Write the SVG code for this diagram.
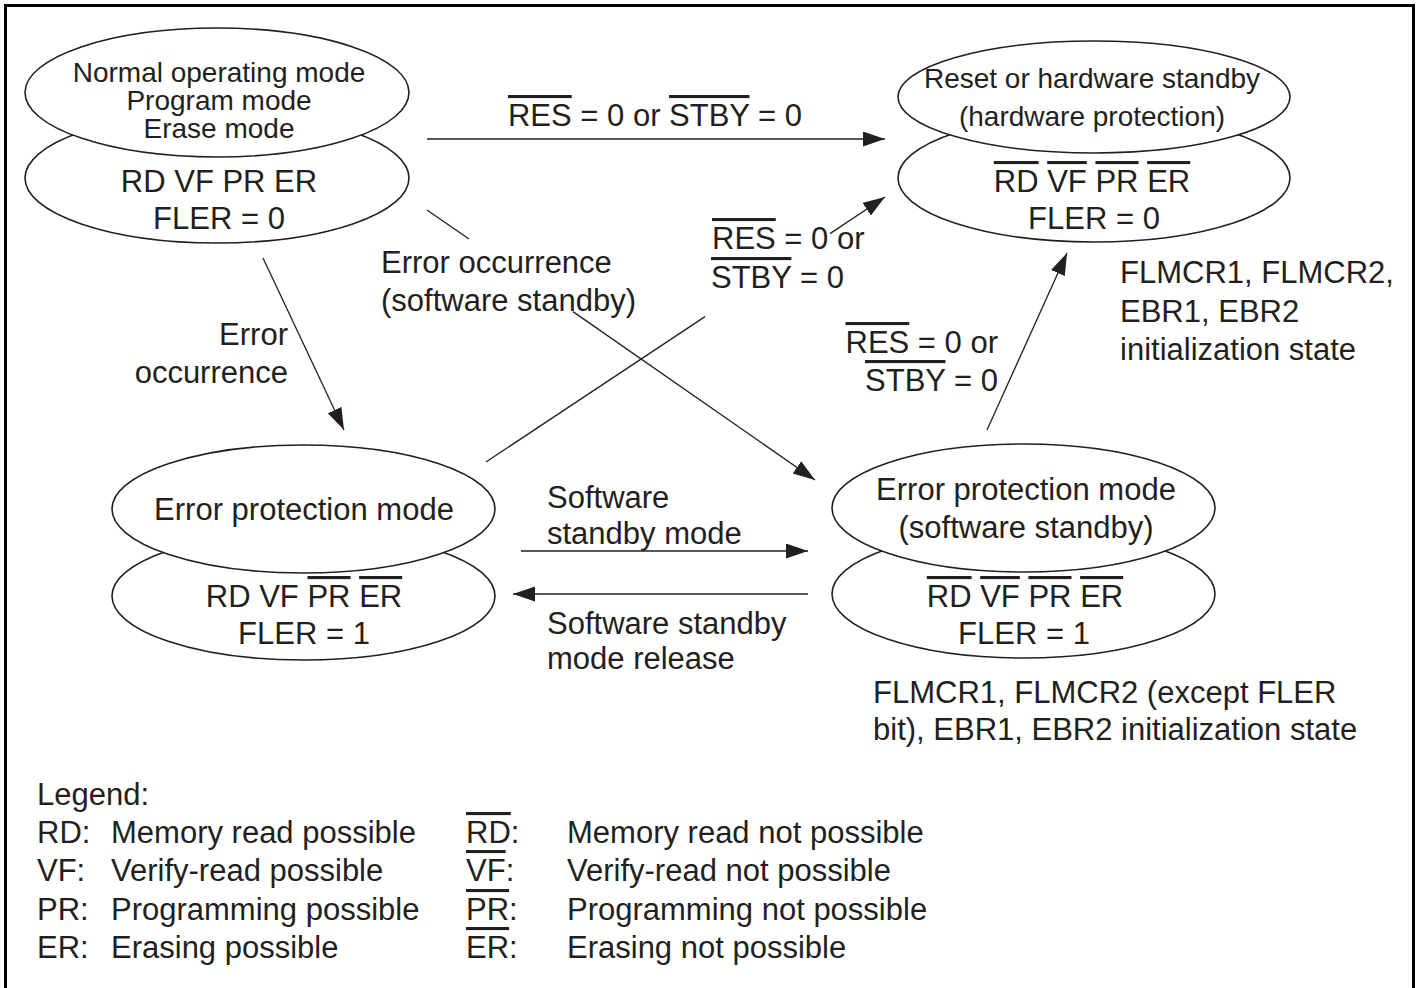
<svg xmlns="http://www.w3.org/2000/svg" width="1417" height="988" viewBox="0 0 1417 988">
<style>
text { font-family: "Liberation Sans", Arial, Helvetica, sans-serif; font-size: 31px; fill: #231f20; }
.sm { font-size: 28px; }
.c { text-anchor: middle; }
.e { text-anchor: end; }
.ob { text-decoration: overline; text-decoration-thickness: 1.5px; }
.el { fill: #fff; stroke: #231f20; stroke-width: 1.6; }
.ln { fill: none; stroke: #231f20; stroke-width: 1.3; }
</style>
<defs>
<marker id="ah" markerUnits="userSpaceOnUse" markerWidth="24" markerHeight="16" refX="22" refY="7.5" orient="auto" viewBox="0 0 24 16"><path d="M0,0 L22,7.5 L0,15 z" fill="#231f20"/></marker>
</defs>
<rect x="0" y="0" width="1417" height="988" fill="#fff"/>
<rect x="5.5" y="5.5" width="1408" height="1000" fill="none" stroke="#000" stroke-width="3"/>

<g id="connectors">
<line class="ln" x1="427" y1="139" x2="885" y2="139" marker-end="url(#ah)"/>
<line class="ln" x1="427" y1="210" x2="469" y2="239"/>
<line class="ln" x1="573" y1="311.6" x2="815" y2="480" marker-end="url(#ah)"/>
<line class="ln" x1="263" y1="258" x2="344" y2="430" marker-end="url(#ah)"/>
<line class="ln" x1="486" y1="462" x2="705" y2="316.6"/>
<line class="ln" x1="830" y1="233.6" x2="885" y2="197" marker-end="url(#ah)"/>
<line class="ln" x1="987" y1="430" x2="1067" y2="253" marker-end="url(#ah)"/>
<line class="ln" x1="521" y1="551" x2="808" y2="551" marker-end="url(#ah)"/>
<line class="ln" x1="808" y1="594" x2="513" y2="594" marker-end="url(#ah)"/>
</g>

<g id="labels">
<text class="c" x="655" y="126"><tspan class="ob">RES</tspan> = 0 or <tspan class="ob">STBY</tspan> = 0</text>
<text x="381" y="273">Error occurrence</text>
<text x="381" y="311">(software standby)</text>
<text class="e" x="288" y="345">Error</text>
<text class="e" x="288" y="383">occurrence</text>
<text x="712" y="249"><tspan class="ob">RES</tspan> = 0 or</text>
<text x="711" y="288"><tspan class="ob">STBY</tspan> = 0</text>
<text class="e" x="998" y="353"><tspan class="ob">RES</tspan> = 0 or</text>
<text class="e" x="998" y="391"><tspan class="ob">STBY</tspan> = 0</text>
<text x="547" y="508">Software</text>
<text x="547" y="544">standby mode</text>
<text x="547" y="634">Software standby</text>
<text x="547" y="669">mode release</text>
</g>

<g id="node-normal">
<ellipse class="el" cx="217" cy="178" rx="192" ry="65"/>
<ellipse class="el" cx="217" cy="92.5" rx="192" ry="64.5"/>
<text class="sm c" x="219" y="82">Normal operating mode</text>
<text class="sm c" x="219" y="110">Program mode</text>
<text class="sm c" x="219" y="138">Erase mode</text>
<text class="c" x="219" y="192">RD VF PR ER</text>
<text class="c" x="219" y="229">FLER = 0</text>
</g>

<g id="node-reset">
<ellipse class="el" cx="1094" cy="178" rx="196" ry="64"/>
<ellipse class="el" cx="1094" cy="97" rx="196" ry="56"/>
<text class="sm c" x="1092" y="88">Reset or hardware standby</text>
<text class="sm c" x="1092" y="126">(hardware protection)</text>
<text class="c" x="1092" y="192"><tspan class="ob">RD</tspan> <tspan class="ob">VF</tspan> <tspan class="ob">PR</tspan> <tspan class="ob">ER</tspan></text>
<text class="c" x="1094" y="229">FLER = 0</text>
</g>

<g id="note-reset">
<text x="1120" y="283">FLMCR1, FLMCR2,</text>
<text x="1120" y="322">EBR1, EBR2</text>
<text x="1120" y="360">initialization state</text>
</g>

<g id="node-error">
<ellipse class="el" cx="303.5" cy="596" rx="191.5" ry="64"/>
<ellipse class="el" cx="303.5" cy="509" rx="191.5" ry="64"/>
<text class="c" x="304" y="520">Error protection mode</text>
<text class="c" x="304" y="607">RD VF <tspan class="ob">PR</tspan> <tspan class="ob">ER</tspan></text>
<text class="c" x="304" y="644">FLER = 1</text>
</g>

<g id="node-error-sw">
<ellipse class="el" cx="1023.5" cy="594" rx="191.5" ry="64"/>
<ellipse class="el" cx="1023.5" cy="508" rx="191.5" ry="64"/>
<text class="c" x="1026" y="500">Error protection mode</text>
<text class="c" x="1026" y="538">(software standby)</text>
<text class="c" x="1025" y="607"><tspan class="ob">RD</tspan> <tspan class="ob">VF</tspan> <tspan class="ob">PR</tspan> <tspan class="ob">ER</tspan></text>
<text class="c" x="1024" y="644">FLER = 1</text>
</g>

<g id="note-error-sw">
<text x="873" y="703">FLMCR1, FLMCR2 (except FLER</text>
<text x="873" y="740">bit), EBR1, EBR2 initialization state</text>
</g>

<g id="legend">
<text x="37" y="805">Legend:</text>
<text x="37" y="843">RD:</text><text x="111" y="843">Memory read possible</text>
<text x="37" y="881">VF:</text><text x="111" y="881">Verify-read possible</text>
<text x="37" y="920">PR:</text><text x="111" y="920">Programming possible</text>
<text x="37" y="958">ER:</text><text x="111" y="958">Erasing possible</text>
<text x="466" y="843"><tspan class="ob">RD</tspan>:</text><text x="567" y="843">Memory read not possible</text>
<text x="466" y="881"><tspan class="ob">VF</tspan>:</text><text x="567" y="881">Verify-read not possible</text>
<text x="466" y="920"><tspan class="ob">PR</tspan>:</text><text x="567" y="920">Programming not possible</text>
<text x="466" y="958"><tspan class="ob">ER</tspan>:</text><text x="567" y="958">Erasing not possible</text>
</g>
</svg>
